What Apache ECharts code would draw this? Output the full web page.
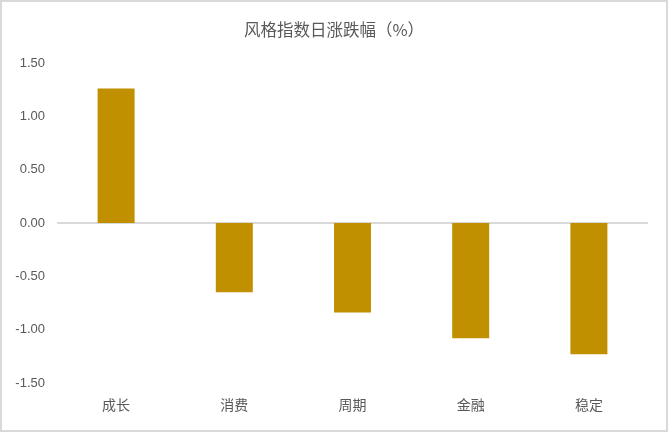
<!DOCTYPE html>
<html>
<head>
<meta charset="utf-8">
<script src="https://cdn.jsdelivr.net/npm/echarts@6/dist/echarts.min.js"></script>
<style>
  html, body { margin: 0; padding: 0; background: #fff; }
  #chart { width: 668px; height: 432px; box-sizing: border-box; border: 2px solid #d9d9d9; }
</style>
</head>
<body>
<div id="chart"></div>
<script>
// данные
const categories = ['成长', '消费', '周期', '金融', '稳定'];
const values = [1.26, -0.65, -0.84, -1.08, -1.23];
const yTicks = [-1.5, -1.0, -0.5, 0, 0.5, 1.0, 1.5];

const chart = echarts.init(document.getElementById('chart'));

// линия только на нуле
const splitColors = yTicks.map(t => t === 0 ? '#d9d9d9' : 'rgba(0,0,0,0)');

chart.setOption({
    animation: false,
    title: {
        text: '风格指数日涨跌幅（%）',
        left: 'center',
        top: 14,
        textStyle: { fontFamily: 'Noto Sans CJK SC', fontSize: 16.5, fontWeight: 'normal', color: '#595959' }
    },
    grid: { left: 55, right: 18, top: 61, bottom: 47 },
    xAxis: {
        type: 'category',
        data: categories,
        axisLine: { show: false },
        axisTick: { show: false },
        axisLabel: { fontFamily: 'Noto Sans CJK SC', fontSize: 14, color: '#595959', margin: 15 }
    },
    yAxis: {
        type: 'value',
        min: -1.5,
        max: 1.5,
        interval: 0.5,
        axisLine: { show: false },
        axisTick: { show: false },
        axisLabel: {
            fontFamily: 'Liberation Sans', fontSize: 13, color: '#595959', margin: 12,
            formatter: v => v.toFixed(2)
        },
        splitLine: { show: true, lineStyle: { color: splitColors, width: 2 } }
    },
    series: [{
        type: 'bar',
        data: values,
        barWidth: 37,
        itemStyle: { color: '#C09000' }
    }]
});
</script>
</body>
</html>
